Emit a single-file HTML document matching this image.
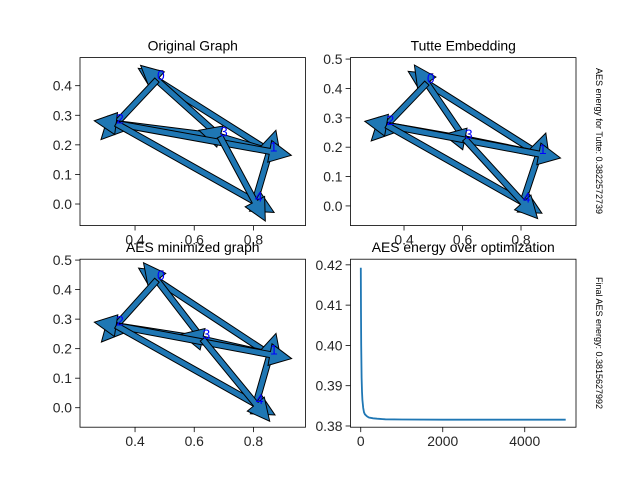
<!DOCTYPE html>
<html><head><meta charset="utf-8"><style>
body{margin:0;background:#fff}
svg{display:block;font-family:"Liberation Sans","DejaVu Sans",sans-serif}
</style></head><body>
<svg id="fig" width="640" height="480" viewBox="0 0 640 480"></svg>
<script>
// ---- data ----
const nodeIds = [0,1,2,3,4];
const origX = [0.474,0.855,0.336,0.687,0.805];
const origY = [0.419,0.178,0.272,0.228,0.008];
const tutteX = [0.478,0.861,0.340,0.608,0.806];
const tutteY = [0.418,0.177,0.275,0.228,0.012];
const aesX = [0.474,0.856,0.336,0.628,0.808];
const aesY = [0.432,0.180,0.278,0.232,0.012];
const edgeFrom = [1,3,0,3,1,4,2,2,3];
const edgeTo   = [0,0,2,2,3,1,1,4,4];
const energyIter = [0,5,10,20,30,40,60,80,100,150,200,300,400,600,1000,2000,3000,4000,4999];
const energyVal = [0.4193,0.408,0.400,0.392,0.3885,0.3865,0.3845,0.3834,0.3829,0.3824,0.3821,0.3819,0.3818,0.38165,0.38160,0.38157,0.38156,0.38156,0.38156];
const graphXTicks = [0.4,0.6,0.8];
const origYTicks = [0.0,0.1,0.2,0.3,0.4];
const tutteYTicks = [0.0,0.1,0.2,0.3,0.4,0.5];
const energyXTicks = [0,2000,4000];
const energyYTicks = [0.38,0.39,0.40,0.41,0.42];
const tutteEnergyText = "AES energy for Tutte: 0.3822572739";
const finalEnergyText = "Final AES energy: 0.3815627992";

const NS="http://www.w3.org/2000/svg";
const svg=document.getElementById('fig');
function mk(tag,attrs,parent){const e=document.createElementNS(NS,tag);for(const k in attrs)e.setAttribute(k,attrs[k]);(parent||svg).appendChild(e);return e;}

function makeAxes(name,box,xlim,ylim,xticks,yticks,xfmt,yfmt,title){
  const g=mk('g',{});
  
  
  const sx=v=>box.x0+(v-xlim[0])/(xlim[1]-xlim[0])*(box.x1-box.x0);
  const sy=v=>box.y1-(v-ylim[0])/(ylim[1]-ylim[0])*(box.y1-box.y0);
  const plot=mk('g',{},g);
  const t=mk('text',{x:(box.x0+box.x1)/2,y:box.y0-7,'text-anchor':'middle','font-size':'13.9'},g);
  t.textContent=title;
  
  
  xticks.forEach(v=>{
    const x=sx(v);
    mk('line',{x1:x,x2:x,y1:box.y1,y2:box.y1+4.9,stroke:'#000','stroke-width':0.8},g);
    const tl=mk('text',{x:x,y:box.y1+19,'text-anchor':'middle','font-size':'13.9',fill:'#262626'},g);
    tl.textContent=xfmt(v);
    
    
  });
  yticks.forEach(v=>{
    const y=sy(v);
    mk('line',{x1:box.x0-4.9,x2:box.x0,y1:y,y2:y,stroke:'#000','stroke-width':0.8},g);
    const tl=mk('text',{x:box.x0-8,y:y+5,'text-anchor':'end','font-size':'13.9',fill:'#262626'},g);
    tl.textContent=yfmt(v);
    
    
  });
  const fr=mk('rect',{x:box.x0,y:box.y0,width:box.x1-box.x0,height:box.y1-box.y0,fill:'none',stroke:'#000','stroke-width':0.8},g);
  
  
  return {g,plot,sx,sy};
}

function drawGraph(ax,xs,ys){
  const w=6,hw=22,hl=22;
  for(let i=0;i<edgeFrom.length;i++){
    const a=edgeFrom[i],b=edgeTo[i];
    const x0=ax.sx(xs[a]),y0=ax.sy(ys[a]),x1=ax.sx(xs[b]),y1=ax.sy(ys[b]);
    const L=Math.hypot(x1-x0,y1-y0),ux=(x1-x0)/L,uy=(y1-y0)/L,nx=-uy,ny=ux;
    const pts=[[x0+nx*w/2,y0+ny*w/2],[x1+nx*w/2,y1+ny*w/2],[x1+nx*hw/2,y1+ny*hw/2],[x1+ux*hl,y1+uy*hl],[x1-nx*hw/2,y1-ny*hw/2],[x1-nx*w/2,y1-ny*w/2],[x0-nx*w/2,y0-ny*w/2]];
    const p=mk('polygon',{points:pts.map(q=>q[0].toFixed(1)+','+q[1].toFixed(1)).join(' '),fill:'#1f77b4',stroke:'#000','stroke-width':1,'stroke-linejoin':'miter'},ax.plot);
    
    
  }
  nodeIds.forEach((id,i)=>{
    const tx=mk('text',{x:ax.sx(xs[i]),y:ax.sy(ys[i]),'font-size':'13.9',fill:'#0000ff'},ax.plot);
    tx.textContent=String(id);
    
    
  });
}

const f1=v=>v.toFixed(1), f2=v=>v.toFixed(2), f0=v=>String(v);
const axO=makeAxes('original-graph-axes',{x0:80,x1:305.5,y0:57.6,y1:225.6},[0.214,0.976],[-0.073,0.495],graphXTicks,origYTicks,f1,f1,'Original Graph');
drawGraph(axO,origX,origY);
const axT=makeAxes('tutte-axes',{x0:350.5,x1:576,y0:57.6,y1:225.6},[0.217,0.988],[-0.067,0.505],graphXTicks,tutteYTicks,f1,f1,'Tutte Embedding');
drawGraph(axT,tutteX,tutteY);
const axA=makeAxes('aes-graph-axes',{x0:80,x1:305.5,y0:259.2,y1:427.2},[0.214,0.976],[-0.066,0.503],graphXTicks,tutteYTicks,f1,f1,'AES minimized graph');
drawGraph(axA,aesX,aesY);
const axE=makeAxes('energy-axes',{x0:350.5,x1:576,y0:259.2,y1:427.2},[-250,5250],[0.3797,0.4214],energyXTicks,energyYTicks,f0,f2,'AES energy over optimization');
const line=mk('polyline',{points:energyIter.map((it,i)=>axE.sx(it).toFixed(1)+','+axE.sy(energyVal[i]).toFixed(1)).join(' '),fill:'none',stroke:'#1f77b4','stroke-width':1.8},axE.plot);



const s1=mk('text',{x:0,y:0,'font-size':'9','text-anchor':'middle',transform:'translate(596,141) rotate(90)'});
s1.textContent=tutteEnergyText;


const s2=mk('text',{x:0,y:0,'font-size':'9','text-anchor':'middle',transform:'translate(596,343) rotate(90)'});
s2.textContent=finalEnergyText;


</script>
</body></html>
